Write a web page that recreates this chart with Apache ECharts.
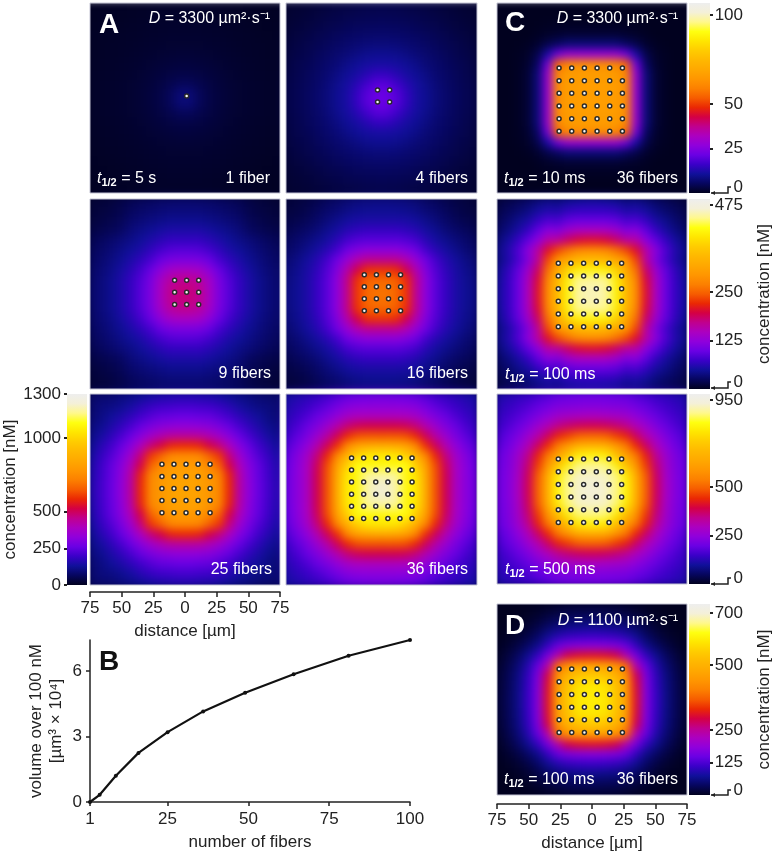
<!DOCTYPE html>
<html><head><meta charset="utf-8">
<script src="https://cdn.jsdelivr.net/npm/echarts@6/dist/echarts.min.js"></script>
<style>html,body{margin:0;padding:0;background:#fff}#c{width:772px;height:853px;position:relative}</style>
</head><body><div id="c"></div>
<script>
// colour scale (even steps from 0 to bar top)
const colorScale = ['#01011f','#06065e','#10109a','#3a00c8','#6a00e4','#9000dc','#ac00c0','#c0008e','#d40044','#ea2804','#f65c00','#fc8000','#ff9600','#ffa800','#ffb800','#ffcc00','#ffe600','#ffff10','#fff88c','#f4f0d8','#eeeeee'];
const cellIds = [0,1,2,3,4,5,6,7,8,9,10,11,12,13,14,15,16,17,18,19];

// concentration [nM]: upper triangle of one quadrant, centre first, 7.5 um cells
const heat1 = [[90,60,42,32,25,20,16,14,12,10],[50,38,30,24,20,16,14,12,10],[32,27,22,18,15,13,11,10],[23,19,16,14,12,10,9],[16,14,12,11,9,8],[12,11,10,8,7],[10,8,7,6],[7,6,5],[5,4],[3]];
const heat4 = [[260,235,185,143,120,96,80,66,55,45],[205,165,137,115,94,77,64,54,44],[143,125,105,87,74,62,51,41],[110,92,80,68,57,48,38],[82,71,62,51,43,35],[63,55,47,39,32],[48,40,34,28],[34,29,24],[25,22],[20]];
const heat9 = [[470,450,380,290,235,185,150,120,98,80],[430,370,285,230,185,150,120,98,78],[320,260,210,170,140,113,92,75],[215,180,150,125,103,85,68],[150,130,110,92,76,62],[110,95,80,66,54],[72,60,50,42],[48,40,33],[33,28],[24]];
const heat16 = [[690,670,600,450,320,240,190,150,125,105],[660,590,450,320,240,190,150,122,102],[510,410,300,230,180,145,118,97],[340,270,210,165,135,108,88],[210,170,140,115,92,75],[140,118,98,80,65],[95,78,65,52],[62,50,42],[40,34],[28]];
const heat25 = [[830,820,790,750,585,430,325,260,210,160],[815,785,740,575,425,320,255,205,155],[740,660,520,400,310,250,200,150],[600,470,360,285,230,185,140],[390,310,255,205,165,125],[260,215,175,140,110],[180,150,120,100],[130,105,88],[100,82],[75]];
const heat36 = [[1230,1190,1090,1050,860,640,510,390,320,270],[1180,1090,1040,850,640,510,390,320,265],[1100,980,820,630,500,385,315,260],[880,740,580,470,370,305,250],[590,500,410,330,275,230],[420,350,290,245,205],[300,260,220,185],[225,195,170],[175,155],[140]];
const heatC10ms = [[66,66,66,62,28,8,2,0.5,0,0],[66,66,62,28,8,2,0.5,0,0],[66,61,28,8,2,0.5,0,0],[55,22,6,1.5,0.4,0,0],[12,4,1,0.3,0,0],[1.5,0.5,0.1,0,0],[0,0,0,0],[0,0,0],[0,0],[0]];
const heatC100ms = [[455,445,405,345,285,205,147,100,72,52],[440,400,340,280,200,145,100,72,50],[375,320,260,185,135,95,68,47],[300,235,165,115,82,58,40],[205,160,120,85,60,42],[122,95,72,52,36],[72,55,40,28],[44,32,23],[25,18],[14]];
const heatC500ms = [[930,920,880,810,660,500,380,290,230,200],[915,870,790,650,490,375,285,228,198],[800,710,590,460,360,280,225,195],[620,530,430,340,270,220,190],[440,370,300,245,205,175],[310,265,220,190,160],[225,195,170,145],[175,155,135],[140,125],[112]];
const heatD = [[600,590,540,470,310,175,110,65,35,15],[580,530,465,305,172,108,63,34,14],[500,440,290,165,103,60,32,13],[380,230,145,90,52,27,10],[160,105,68,40,20,6],[65,42,24,11,3],[24,12,5,1],[5,2,0],[0,0],[0]];

// fibre positions [um]
const fibX1 = [1.3], fibY1 = [1.5];
const fibX4 = [-3.1,6.4], fibY4 = [-3.1,6.4];
const fibX9 = [-8.2,1.3,10.8], fibY9 = [-8.2,1.3,10.8];
const fibX16 = [-13.5,-4,5.5,15], fibY16 = [-13.2,-3.7,5.8,15.2];
const fibX25 = [-18.2,-8.7,0.8,10.3,19.8], fibY25 = [-18.2,-8.7,0.8,10.3,19.8];
const fibX36 = [-23.5,-14,-4.5,5,14.5,24], fibY36 = [-22.7,-13.2,-3.7,5.8,15.3,24.8];
const fibXC1 = [-26,-16,-6,4,14,24], fibYC1 = [-26.3,-16.3,-6.3,3.7,13.7,23.7];
const fibXC2 = [-26.6,-16.6,-6.6,3.4,13.4,23.4], fibYC2 = [-25.8,-15.8,-5.8,4.2,14.2,24.2];
const fibXC3 = [-26.6,-16.6,-6.6,3.4,13.4,23.4], fibYC3 = [-26.4,-16.4,-6.4,3.6,13.6,23.6];
const fibXD = [-26,-16,-6,4,14,24], fibYD = [-26,-16,-6,4,14,24];

// colour bar ticks
const barMaxA = 1300, barTicksA = [0,250,500,1000,1300];
const barMaxC1 = 106.7, barTicksC1 = [25,50,100];
const barMaxC2 = 490, barTicksC2 = [125,250,475];
const barMaxC3 = 980, barTicksC3 = [250,500,950];
const barMaxD = 735, barTicksD = [125,250,500,700];

// panel B
const fiberCounts = [1,4,9,16,25,36,49,64,81,100];
const volumes = [0,0.33,1.2,2.25,3.2,4.15,5.0,5.85,6.7,7.42];
const bXTicks = [1,25,50,75,100], bYTicks = [0,3,6];

const FONT = '"Liberation Sans", Arial, sans-serif', INK = '#222';
const panels = [
 {r:[90,3,190,190],  h:heat1,  fx:fibX1,  fy:fibY1,  g:0},
 {r:[286,3,191,190], h:heat4,  fx:fibX4,  fy:fibY4,  g:0},
 {r:[90,199,190,190],h:heat9,  fx:fibX9,  fy:fibY9,  g:0},
 {r:[286,199,191,190],h:heat16,fx:fibX16, fy:fibY16, g:0},
 {r:[90,394,190,191],h:heat25, fx:fibX25, fy:fibY25, g:0, axis:true},
 {r:[286,394,191,191],h:heat36,fx:fibX36, fy:fibY36, g:0},
 {r:[497,3,190,190], h:heatC10ms, fx:fibXC1,fy:fibYC1,g:1},
 {r:[497,199,190,190],h:heatC100ms,fx:fibXC2,fy:fibYC2,g:2},
 {r:[497,394,190,190],h:heatC500ms,fx:fibXC3,fy:fibYC3,g:3},
 {r:[497,604,190,191],h:heatD, fx:fibXD,  fy:fibYD,  g:4, axis:true, off:9}
];
const bars = [
 {r:[67,394,20,191], max:barMaxA,  ticks:barTicksA,  left:true, name:'concentration [nM]'},
 {r:[689,3,21,190],  max:barMaxC1, ticks:barTicksC1},
 {r:[689,199,21,190],max:barMaxC2, ticks:barTicksC2, name:'concentration [nM]'},
 {r:[689,394,21,190],max:barMaxC3, ticks:barTicksC3},
 {r:[689,604,21,191],max:barMaxD,  ticks:barTicksD,  name:'concentration [nM]'}
];

function mirror(tri){
  const out = [];
  for (let a=0;a<20;a++) for (let b=0;b<20;b++){
    const i = a<10 ? 9-a : a-10, j = b<10 ? 9-b : b-10;
    out.push([a,b,tri[Math.min(i,j)][Math.abs(i-j)]]);
  }
  return out;
}
const grid=[], xAxis=[], yAxis=[], series=[], clip=[];
const groupSeries=[[],[],[],[],[]];
const textAxis = {color:INK,fontFamily:FONT,fontSize:17};
panels.forEach(p=>{
  const [x,y,w,h]=p.r, e=3;
  clip.push(`M${x} ${y}H${x+w}V${y+h}H${x}Z`);
  grid.push({left:x-e,top:y-e,width:w+2*e,height:h+2*e,outerBoundsMode:'none'});
  let gi=grid.length-1;
  xAxis.push({type:'category',data:cellIds,gridIndex:gi,show:false});
  yAxis.push({type:'category',data:cellIds,gridIndex:gi,show:false});
  groupSeries[p.g].push(series.length);
  series.push({type:'heatmap',xAxisIndex:xAxis.length-1,yAxisIndex:yAxis.length-1,data:mirror(p.h),zlevel:-1,progressive:0,silent:true,itemStyle:{borderWidth:0}});
  grid.push({left:x,top:y,width:w,height:h,show:true,borderColor:'#c4c4d4',borderWidth:1,backgroundColor:'transparent',outerBoundsMode:'none'});
  gi=grid.length-1;
  xAxis.push({type:'value',gridIndex:gi,min:-75,max:75,interval:25,show:!!p.axis,position:'bottom',offset:p.axis?(p.off||7):0,
    splitLine:{show:false},axisLine:{show:true,onZero:false,lineStyle:{color:INK,width:1.5}},axisTick:{show:true,length:5,lineStyle:{color:INK,width:1.5}},
    axisLabel:{...textAxis,margin:8,formatter:v=>String(Math.abs(v))},
    name:p.axis?'distance [µm]':'',nameLocation:'middle',nameGap:31,nameTextStyle:{...textAxis}});
  yAxis.push({type:'value',gridIndex:gi,min:-75,max:75,show:false,splitLine:{show:false}});
  const pts=[]; p.fy.forEach(fy=>p.fx.forEach(fx=>pts.push([fx,fy])));
  series.push({type:'scatter',xAxisIndex:xAxis.length-1,yAxisIndex:yAxis.length-1,data:pts,symbolSize:4,silent:true,
    itemStyle:{color:'#fbfbfb',borderColor:'#2a2a2a',borderWidth:1.5,opacity:1}});
});
const plain=v=>String(v);
bars.forEach(b=>{
  const [x,y,w,h]=b.r;
  grid.push({left:x,top:y,width:w,height:h,outerBoundsMode:'none'});
  const gi=grid.length-1;
  xAxis.push({type:'category',data:['c'],gridIndex:gi,show:false});
  yAxis.push({type:'value',gridIndex:gi,min:0,max:b.max,position:b.left?'left':'right',
    axisLine:{show:false},splitLine:{show:false},
    axisTick:{show:true,length:3,customValues:b.ticks,lineStyle:{color:INK,width:2}},
    axisLabel:{...textAxis,customValues:b.ticks,formatter:plain,showMinLabel:true,showMaxLabel:true,hideOverlap:false,margin:b.left?6:33,align:'right'},
    name:b.name||'',nameLocation:'middle',nameRotate:90,nameGap:b.left?45:46,nameTextStyle:{...textAxis}});
  series.push({type:'bar',xAxisIndex:xAxis.length-1,yAxisIndex:yAxis.length-1,data:[b.max],barWidth:'100%',silent:true,
    itemStyle:{color:new echarts.graphic.LinearGradient(0,1,0,0,colorScale.map((c,i)=>({offset:i/(colorScale.length-1),color:c})))}});
});
grid.push({left:90,top:640,width:320,height:162,outerBoundsMode:'none'});
xAxis.push({type:'value',gridIndex:grid.length-1,min:1,max:100,splitLine:{show:false},
  axisLine:{onZero:false,lineStyle:{color:INK,width:1.5}},axisTick:{length:4,customValues:bXTicks,lineStyle:{color:INK,width:1.5}},
  axisLabel:{...textAxis,customValues:bXTicks,margin:9,showMinLabel:true,showMaxLabel:true},
  name:'number of fibers',nameLocation:'middle',nameGap:32,nameTextStyle:{...textAxis}});
yAxis.push({type:'value',gridIndex:grid.length-1,min:0,max:7.42,splitLine:{show:false},
  axisLine:{show:true,onZero:false,lineStyle:{color:INK,width:1.5}},axisTick:{show:true,length:4,customValues:bYTicks,lineStyle:{color:INK,width:1.5}},
  axisLabel:{...textAxis,customValues:bYTicks,margin:8,showMinLabel:true},
  name:'volume over 100 nM\n[µm³ × 10⁴]',nameLocation:'middle',nameRotate:90,nameGap:24,nameTextStyle:{...textAxis,lineHeight:20}});
series.push({type:'line',xAxisIndex:xAxis.length-1,yAxisIndex:yAxis.length-1,data:fiberCounts.map((n,i)=>[n,volumes[i]]),
  symbol:'circle',symbolSize:4,silent:true,clip:false,lineStyle:{color:'#111',width:2.2},itemStyle:{color:'#111'}});

const visualMap=[barMaxA,barMaxC1,barMaxC2,barMaxC3,barMaxD].map((m,i)=>({type:'continuous',show:false,min:0,max:m,dimension:2,seriesIndex:groupSeries[i],inRange:{color:colorScale}}));

const rich={t:{fontStyle:'italic',fontSize:16,fontFamily:FONT,color:'#fff'},
  s:{fontSize:11,fontWeight:'bold',color:'#fff',fontFamily:FONT,verticalAlign:'bottom',lineHeight:19},
  n:{fontSize:16,color:'#fff',fontFamily:FONT}};
const txt=(text,x,y,align,size,weight,fill)=>({type:'text',silent:true,style:{text,x,y,align:align||'left',verticalAlign:'middle',
  font:`${weight||'normal'} ${size||16}px ${FONT}`,fill:fill||'#fff',rich}});
const g=[
 txt('A',109,25,'center',28,'bold'),txt('C',515,23,'center',28,'bold'),txt('D',515,626,'center',28,'bold'),txt('B',109,662,'center',28,'bold','#111'),
 txt('{t|D}{n| = 3300 µm²·s⁻¹}',270,19,'right'),txt('{t|D}{n| = 3300 µm²·s⁻¹}',678,19,'right'),txt('{t|D}{n| = 1100 µm²·s⁻¹}',678,621,'right'),
 txt('{t|t}{s|1/2}{n| = 5 s}',97,179),txt('{t|t}{s|1/2}{n| = 10 ms}',504,179),txt('{t|t}{s|1/2}{n| = 100 ms}',505,375),txt('{t|t}{s|1/2}{n| = 500 ms}',505,570),txt('{t|t}{s|1/2}{n| = 100 ms}',504,780),
 txt('1 fiber',270,179,'right'),txt('4 fibers',468,179,'right'),txt('9 fibers',271,374,'right'),txt('16 fibers',468,374,'right'),
 txt('25 fibers',272,570,'right'),txt('36 fibers',468,570,'right'),txt('36 fibers',678,179,'right'),txt('36 fibers',678,780,'right')
];
[[193,187],[388,382],[584,578],[795,790]].forEach(([a,b])=>{
  g.push({type:'polyline',silent:true,shape:{points:[[711,a],[728,a],[728,b],[731,b]]},style:{stroke:INK,lineWidth:1.5,fill:null}});
  g.push({type:'polygon',silent:true,shape:{points:[[711,a],[715,a-2],[715,a+2]]},style:{fill:INK}});
  g.push(txt('0',743,b,'right',17,'normal',INK));
});

const chart=echarts.init(document.getElementById('c'),null,{renderer:'canvas',width:772,height:853});
chart.setOption({animation:false,backgroundColor:'transparent',grid,xAxis,yAxis,series,visualMap,graphic:{elements:g}});
function soften(){
  const layer=chart.getDom().querySelectorAll('canvas')[0];
  if(!layer) return;
  layer.style.background='#01011f';
  layer.style.filter='blur(4.5px)';
  layer.style.clipPath=`path("${clip.join(' ')}")`;
}
soften(); chart.on('finished',soften);
</script></body></html>
